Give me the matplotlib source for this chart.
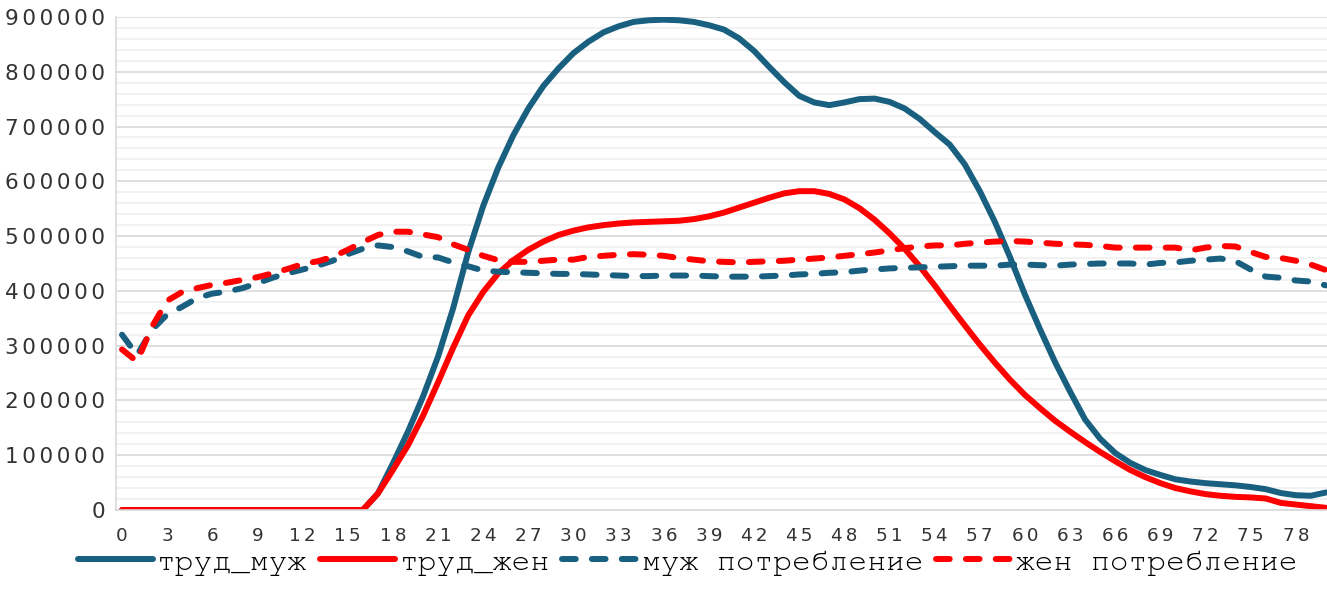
import glob
import matplotlib
matplotlib.use('Agg')
import matplotlib.pyplot as plt
from matplotlib.ticker import MultipleLocator, FuncFormatter
from matplotlib import font_manager

# ages 0..80
ages = list(range(81))

trud_muzh = [0] * 17 + [
    30000, 85000, 143000, 207000, 280000, 368000, 470000, 555000, 625000, 684000,
    733000, 774000, 806000, 834000, 855000, 872000, 883000, 891000, 894000, 895000,
    894000, 891000, 885000, 877000, 861000, 838000, 809000, 781000, 756000, 744000,
    739000, 744000, 750000, 751000, 745000, 733000, 714000, 690000, 667000, 631000,
    582000, 526000, 462000, 393000, 330000, 270000, 216000, 165000, 130000, 104000,
    86000, 73000, 64000, 56000, 52000, 49000, 47000, 45000, 42000, 38000,
    31000, 27000, 26000, 32000]

trud_zhen = [0] * 17 + [
    30000, 73000, 118000, 172000, 233000, 296000, 355000, 398000, 432000, 456000,
    475000, 490000, 502000, 510000, 516000, 520000, 523000, 525000, 526000, 527000,
    528000, 531000, 536000, 543000, 552000, 561000, 570000, 578000, 582000, 582000,
    577000, 567000, 551000, 530000, 505000, 477000, 445000, 410000, 373000, 337000,
    302000, 269000, 238000, 210000, 186000, 163000, 143000, 124000, 106000, 89000,
    73000, 60000, 49000, 40000, 34000, 29000, 26000, 24000, 23000, 21000,
    13000, 10000, 7000, 4000]

potr_muzh = [
    320000, 283000, 329000, 357000, 371000, 387000, 395000, 399000, 405000, 414000,
    424000, 432000, 439000, 446000, 455000, 467000, 477000, 483000, 480000, 472000,
    462000, 461000, 452000, 445000, 437000, 435000, 434000, 433000, 432000, 431000,
    431000, 430000, 429000, 428000, 427000, 427000, 428000, 428000, 428000, 427000,
    426000, 426000, 426000, 427000, 428000, 430000, 431000, 433000, 434000, 437000,
    439000, 441000, 442000, 443000, 444000, 445000, 446000, 446000, 446000, 448000,
    448000, 447000, 446000, 448000, 449000, 450000, 450000, 450000, 448000, 451000,
    452000, 455000, 457000, 459000, 454000, 439000, 426000, 424000, 419000, 417000,
    410000]

potr_zhen = [
    293000, 271000, 335000, 382000, 398000, 405000, 411000, 415000, 420000, 425000,
    432000, 440000, 449000, 454000, 462000, 475000, 489000, 502000, 508000, 508000,
    503000, 498000, 485000, 475000, 464000, 456000, 453000, 453000, 455000, 457000,
    457000, 462000, 464000, 466000, 467000, 466000, 464000, 460000, 457000, 454000,
    453000, 452000, 453000, 454000, 455000, 457000, 459000, 461000, 464000, 467000,
    470000, 474000, 478000, 481000, 483000, 483000, 486000, 488000, 490000, 491000,
    490000, 488000, 486000, 485000, 484000, 482000, 479000, 479000, 479000, 479000,
    479000, 474000, 479000, 482000, 481000, 471000, 462000, 460000, 455000, 448000,
    438000]

labels = ['труд_муж', 'труд_жен', 'муж потребление', 'жен потребление']
blue = '#185f80'
red = '#ff0000'

SP = '\u2006'  # small gap between digits, like the spaced-out labels


def spaced(v, pos):
    return SP.join(str(int(round(v))))


# courier-like font for the legend: prefer a serif mono if one is around
cands = []
for pat in ['NimbusMonoPS-Regular*', 'FreeMono.*', 'cour.ttf', 'LiberationMono-Regular*']:
    cands += glob.glob('/usr/share/fonts/**/' + pat, recursive=True)
if cands:
    legend_font = font_manager.FontProperties(fname=cands[0], size=22.5)
else:
    legend_font = font_manager.FontProperties(family='monospace', size=22.5)

fig = plt.figure(figsize=(13.27, 6.06), dpi=100)
ax = fig.add_axes([0.0874, 0.1584, 0.9126, 0.8136])

lw = 4.3
dash = (0, (2.3, 2.7))
l1, = ax.plot(ages, trud_muzh, color=blue, lw=lw, solid_capstyle='round', label=labels[0])
l2, = ax.plot(ages, trud_zhen, color=red, lw=lw, solid_capstyle='round', label=labels[1])
l3, = ax.plot(ages, potr_muzh, color=blue, lw=lw, ls=dash, dash_capstyle='round', label=labels[2])
l4, = ax.plot(ages, potr_zhen, color=red, lw=lw, ls=dash, dash_capstyle='round', label=labels[3])

ax.set_xlim(-0.4, 80.07)
ax.set_ylim(0, 900000)
ax.xaxis.set_major_locator(MultipleLocator(3))
ax.yaxis.set_major_locator(MultipleLocator(100000))
ax.yaxis.set_minor_locator(MultipleLocator(20000))
ax.xaxis.set_major_formatter(FuncFormatter(spaced))
ax.yaxis.set_major_formatter(FuncFormatter(spaced))

ax.grid(which='major', axis='y', color='#d9d9d9', lw=1.2, zorder=0)
ax.grid(which='minor', axis='y', color='#f0f0f0', lw=1.2, zorder=0)
ax.set_axisbelow(True)

for s in ['top', 'right']:
    ax.spines[s].set_visible(False)
for s in ['left', 'bottom']:
    ax.spines[s].set_color('#d9d9d9')
    ax.spines[s].set_linewidth(1.2)

ax.tick_params(axis='y', which='both', length=0, pad=8, labelsize=15.5, labelcolor='#333333')
ax.tick_params(axis='x', which='major', length=0, pad=12, labelsize=13.2, labelcolor='#333333')

fig.legend([l1, l2, l3, l4], labels, loc='center', bbox_to_anchor=(0.518, 0.072),
           ncol=4, frameon=False, handlelength=2.4, handletextpad=0.15,
           columnspacing=0.4, borderpad=0.1, prop=legend_font)

fig.savefig('out.png', dpi=100)
